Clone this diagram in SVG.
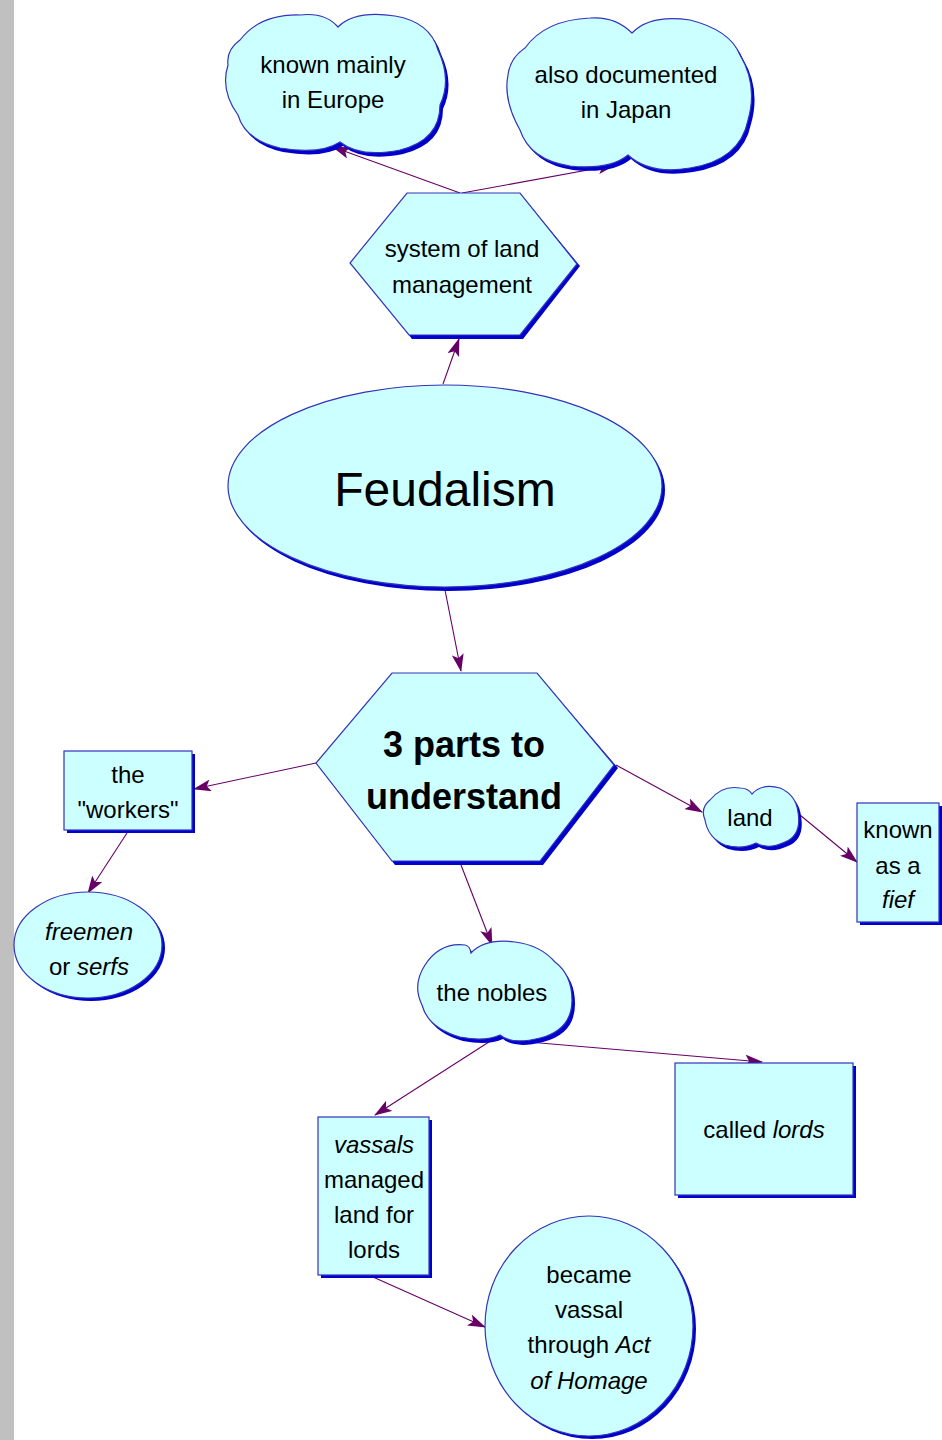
<svg xmlns="http://www.w3.org/2000/svg" width="942" height="1440" viewBox="0 0 942 1440">
<style>
.sh{fill:#0000cc;stroke:none}
.nd{fill:#ccffff;stroke:#3333bb;stroke-width:1.2}
.t{font-family:"Liberation Sans",Arial,sans-serif;font-size:24px;fill:#000;text-anchor:middle}
.i{font-style:italic}
.c{fill:none;stroke:#660066;stroke-width:1.1}
</style>
<defs>
<marker id="ah" markerUnits="userSpaceOnUse" markerWidth="18" markerHeight="12" viewBox="0 0 18 12" refX="17" refY="6" orient="auto">
<path d="M0,0 L18,6 L0,12 L4,6 Z" fill="#660066"/>
</marker>
</defs>
<rect x="0" y="0" width="942" height="1440" fill="#ffffff"/>
<rect x="0" y="0" width="14" height="1440" fill="#c0c0c0"/>

<g id="connectors">
<line class="c" x1="460" y1="193" x2="333" y2="147" marker-end="url(#ah)"/>
<line class="c" x1="462" y1="193" x2="615" y2="165" marker-end="url(#ah)"/>
<line class="c" x1="443" y1="384" x2="459" y2="339" marker-end="url(#ah)"/>
<line class="c" x1="445" y1="590" x2="461" y2="671" marker-end="url(#ah)"/>
<line class="c" x1="316" y1="763" x2="194" y2="789" marker-end="url(#ah)"/>
<line class="c" x1="127" y1="833" x2="88" y2="893" marker-end="url(#ah)"/>
<line class="c" x1="616" y1="765" x2="702" y2="812" marker-end="url(#ah)"/>
<line class="c" x1="800" y1="815" x2="857" y2="862" marker-end="url(#ah)"/>
<line class="c" x1="461" y1="865" x2="492" y2="945" marker-end="url(#ah)"/>
<line class="c" x1="492" y1="1040" x2="375" y2="1115" marker-end="url(#ah)"/>
<line class="c" x1="505" y1="1040" x2="762" y2="1062" marker-end="url(#ah)"/>
<line class="c" x1="373" y1="1277" x2="485" y2="1327" marker-end="url(#ah)"/>
</g>

<g id="europe">
<path class="sh" transform="translate(3,4)" d="M240,40 Q260,14 300,15 Q325,12 338,27 Q355,10 395,16 Q430,22 438,50 Q452,80 440,105 Q440,140 400,150 Q360,158 340,142 Q320,155 280,148 Q245,140 238,115 Q220,90 228,65 Q226,50 240,40 Z"/>
<path class="nd" d="M240,40 Q260,14 300,15 Q325,12 338,27 Q355,10 395,16 Q430,22 438,50 Q452,80 440,105 Q440,140 400,150 Q360,158 340,142 Q320,155 280,148 Q245,140 238,115 Q220,90 228,65 Q226,50 240,40 Z"/>
<text class="t" x="333" y="73">known mainly</text>
<text class="t" x="333" y="108">in Europe</text>
</g>

<g id="japan">
<path class="sh" transform="translate(3,4)" d="M525,48 Q545,20 590,18 Q615,16 632,33 Q650,14 690,20 Q730,30 740,55 Q758,85 748,120 Q740,160 690,168 Q650,175 628,155 Q610,170 570,166 Q530,160 520,130 Q503,100 508,75 Q510,58 525,48 Z"/>
<path class="nd" d="M525,48 Q545,20 590,18 Q615,16 632,33 Q650,14 690,20 Q730,30 740,55 Q758,85 748,120 Q740,160 690,168 Q650,175 628,155 Q610,170 570,166 Q530,160 520,130 Q503,100 508,75 Q510,58 525,48 Z"/>
<text class="t" x="626" y="83">also documented</text>
<text class="t" x="626" y="118">in Japan</text>
</g>

<g id="system">
<polygon class="sh" points="410,197 523,197 580,266 523,339 412,339 353,264"/>
<polygon class="nd" points="407,193 520,193 577,264 520,335 409,335 350,263"/>
<text class="t" x="462" y="257">system of land</text>
<text class="t" x="462" y="293">management</text>
</g>

<g id="feudalism">
<ellipse class="sh" cx="448" cy="490" rx="217" ry="101"/>
<ellipse class="nd" cx="445" cy="486" rx="217" ry="101"/>
<text class="t" x="445" y="506" style="font-size:48px">Feudalism</text>
</g>

<g id="parts">
<polygon class="sh" points="395,677 540,677 618,768 543,865 395,865 319,767"/>
<polygon class="nd" points="392,673 537,673 614,765 540,861 392,861 316,763"/>
<text class="t" x="464" y="757" style="font-size:36px;font-weight:bold">3 parts to</text>
<text class="t" x="464" y="809" style="font-size:36px;font-weight:bold">understand</text>
</g>

<g id="workers">
<rect class="sh" x="67" y="754" width="128" height="79"/>
<rect class="nd" x="64" y="751" width="128" height="79"/>
<text class="t" x="128" y="783">the</text>
<text class="t" x="128" y="818">"workers"</text>
</g>

<g id="freemen">
<ellipse class="sh" cx="91" cy="948" rx="74" ry="53"/>
<ellipse class="nd" cx="88" cy="945" rx="74" ry="53"/>
<text class="t i" x="89" y="940">freemen</text>
<text class="t" x="89" y="975">or <tspan class="i">serfs</tspan></text>
</g>

<g id="land">
<path class="sh" transform="translate(3,4)" d="M710,800 Q722,785 740,788 Q748,788 752,794 Q762,783 780,788 Q796,795 798,812 Q802,835 785,842 Q768,850 756,843 Q742,850 725,845 Q708,838 705,820 Q700,808 710,800 Z"/>
<path class="nd" d="M710,800 Q722,785 740,788 Q748,788 752,794 Q762,783 780,788 Q796,795 798,812 Q802,835 785,842 Q768,850 756,843 Q742,850 725,845 Q708,838 705,820 Q700,808 710,800 Z"/>
<text class="t" x="750" y="826">land</text>
</g>

<g id="fief">
<rect class="sh" x="860" y="806" width="82" height="119"/>
<rect class="nd" x="857" y="803" width="82" height="119"/>
<text class="t" x="898" y="838">known</text>
<text class="t" x="898" y="874">as a</text>
<text class="t i" x="898" y="908">fief</text>
</g>

<g id="nobles">
<path class="sh" transform="translate(3,4)" d="M425,965 Q440,942 465,945 Q470,946 471,953 Q485,938 515,942 Q540,945 555,962 Q572,975 572,1000 Q572,1030 540,1038 Q512,1045 500,1035 Q485,1042 460,1037 Q428,1028 422,1005 Q412,985 425,965 Z"/>
<path class="nd" d="M425,965 Q440,942 465,945 Q470,946 471,953 Q485,938 515,942 Q540,945 555,962 Q572,975 572,1000 Q572,1030 540,1038 Q512,1045 500,1035 Q485,1042 460,1037 Q428,1028 422,1005 Q412,985 425,965 Z"/>
<text class="t" x="492" y="1001">the nobles</text>
</g>

<g id="lords">
<rect class="sh" x="678" y="1066" width="178" height="132"/>
<rect class="nd" x="675" y="1063" width="178" height="132"/>
<text class="t" x="764" y="1138">called <tspan class="i">lords</tspan></text>
</g>

<g id="vassals">
<rect class="sh" x="321" y="1120" width="111" height="158"/>
<rect class="nd" x="318" y="1117" width="111" height="158"/>
<text class="t i" x="374" y="1153">vassals</text>
<text class="t" x="374" y="1188">managed</text>
<text class="t" x="374" y="1223">land for</text>
<text class="t" x="374" y="1258">lords</text>
</g>

<g id="homage">
<ellipse class="sh" cx="592" cy="1329" rx="104" ry="110"/>
<ellipse class="nd" cx="589" cy="1326" rx="104" ry="110"/>
<text class="t" x="589" y="1283">became</text>
<text class="t" x="589" y="1318">vassal</text>
<text class="t" x="589" y="1353">through <tspan class="i">Act</tspan></text>
<text class="t i" x="589" y="1389">of Homage</text>
</g>
</svg>
